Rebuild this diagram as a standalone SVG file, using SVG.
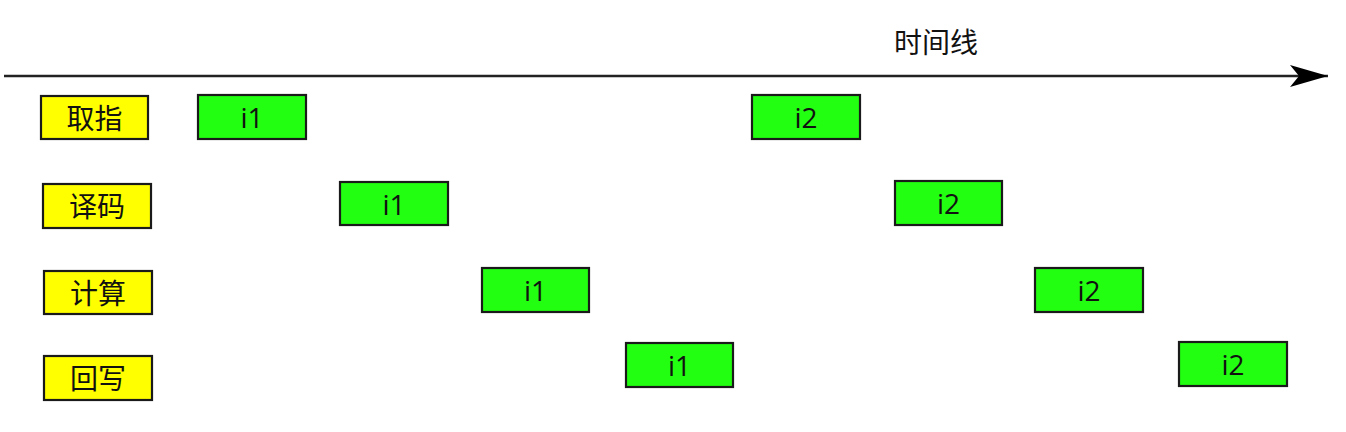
<svg xmlns="http://www.w3.org/2000/svg" width="1346" height="432" viewBox="0 0 1346 432">
<style>
.stage rect{fill:#ffff00;stroke:#1a1a1a;stroke-width:2.2}
.task rect{fill:#22ff11;stroke:#1a1a1a;stroke-width:2.2}
text{font-family:"Open Sans","Noto Sans CJK SC",sans-serif;fill:#111;text-anchor:middle;dominant-baseline:central}
.lbl{font-size:28px}
.ti{font-size:28px}
</style>
<defs>
<marker id="ah" viewBox="0 0 40 22" refX="38" refY="11" markerWidth="40" markerHeight="22" markerUnits="userSpaceOnUse" orient="auto">
<path d="M0,0 L38,11 L0,22 L9,11 Z" fill="#000"/>
</marker>
</defs>
<rect width="1346" height="432" fill="#fff"/>
<g id="connectors">
<line x1="4" y1="76" x2="1328" y2="76" stroke="#222" stroke-width="2.5" marker-end="url(#ah)"/>
</g>
<g id="timeline-label"><text x="936" y="42" class="lbl">时间线</text></g>
<g id="s1" class="stage"><rect x="41" y="96" width="107" height="43"/><text x="94.5" y="117.5" class="lbl">取指</text></g>
<g id="s2" class="stage"><rect x="43" y="184" width="108" height="44"/><text x="97" y="206" class="lbl">译码</text></g>
<g id="s3" class="stage"><rect x="44" y="271" width="108" height="43"/><text x="98" y="292.5" class="lbl">计算</text></g>
<g id="s4" class="stage"><rect x="44" y="356" width="108" height="44"/><text x="98" y="378" class="lbl">回写</text></g>
<g id="i1a" class="task"><rect x="198" y="95" width="108" height="44"/><text x="252" y="117" class="ti">i1</text></g>
<g id="i1b" class="task"><rect x="340" y="182" width="108" height="43"/><text x="394" y="203.5" class="ti">i1</text></g>
<g id="i1c" class="task"><rect x="482" y="268" width="107" height="44"/><text x="535.5" y="290" class="ti">i1</text></g>
<g id="i1d" class="task"><rect x="626" y="343" width="107" height="44"/><text x="679.5" y="365" class="ti">i1</text></g>
<g id="i2a" class="task"><rect x="752" y="95" width="108" height="44"/><text x="806" y="117" class="ti">i2</text></g>
<g id="i2b" class="task"><rect x="895" y="181" width="107" height="44"/><text x="948.5" y="203" class="ti">i2</text></g>
<g id="i2c" class="task"><rect x="1035" y="268" width="108" height="44"/><text x="1089" y="290" class="ti">i2</text></g>
<g id="i2d" class="task"><rect x="1179" y="342" width="108" height="44"/><text x="1233" y="364" class="ti">i2</text></g>
</svg>
